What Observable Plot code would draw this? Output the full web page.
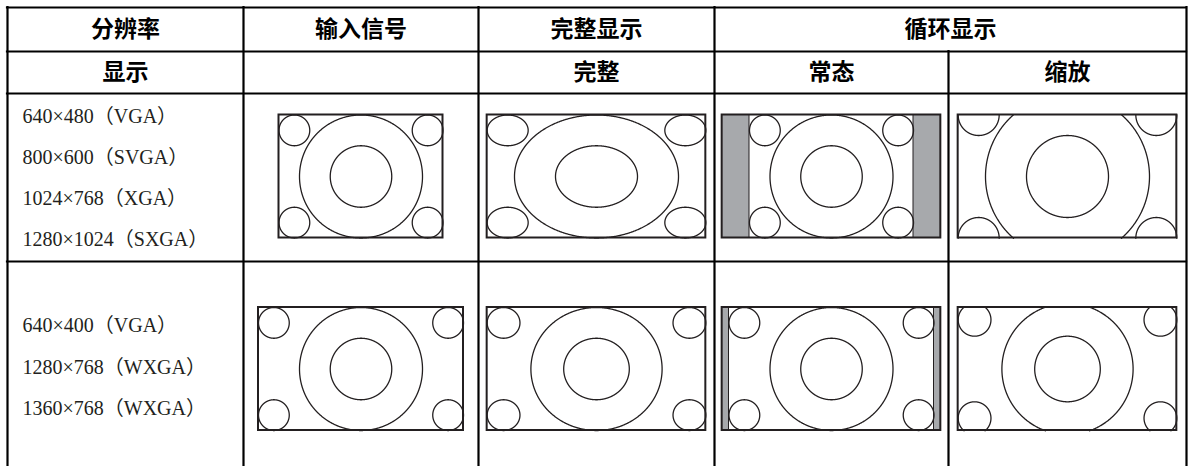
<!DOCTYPE html>
<html>
<head>
<meta charset="utf-8">
<script src="https://cdn.jsdelivr.net/npm/d3@7"></script>
<script src="https://cdn.jsdelivr.net/npm/@observablehq/plot@0.6"></script>
<style>
  html, body { margin: 0; padding: 0; background: #ffffff; }
</style>
</head>
<body>
<div id="chart"></div>
<script>
// ---------------- data ----------------
const headerTop = ["分辨率", "输入信号", "完整显示", "循环显示"];
const headerSub = ["显示", "", "完整", "常态", "缩放"];
const resolutions43 = ["640×480（VGA）", "800×600（SVGA）", "1024×768（XGA）", "1280×1024（SXGA）"];
const resolutionsWide = ["640×400（VGA）", "1280×768（WXGA）", "1360×768（WXGA）"];
const sourceAspects = [4 / 3, 5 / 3];       // input signal aspect per row group
const displayAspect = 16 / 9;               // panel aspect
const modes = ["input", "full", "normal", "zoom"];

// ---------------- layout ----------------
const W = 1189, H = 466;
const colEdges = [7, 243, 478, 714, 948, 1186];
const rowEdges = [7, 51, 93, 261];
const colCenter = i => (colEdges[i] + colEdges[i + 1]) / 2;
const textCenters = [178, 367];
const textSpacing = [41, 41.5];
const diagCenters = [176, 368.5];
const frameH = 123;

// ---------------- table grid ----------------
const vLines = colEdges.map((x, i) => ({x, y1: i === 4 ? rowEdges[1] : rowEdges[0], y2: H}));
const hLines = rowEdges.map(y => ({y, x1: colEdges[0], x2: colEdges[5]}));

// ---------------- header texts ----------------
const topTexts = headerTop.map((t, i) => ({
  t, x: i < 3 ? colCenter(i) : (colEdges[3] + colEdges[5]) / 2, y: (rowEdges[0] + rowEdges[1]) / 2 + 0.5
}));
const subTexts = headerSub.map((t, i) => ({t, x: colCenter(i), y: (rowEdges[1] + rowEdges[2]) / 2 + 0.5})).filter(d => d.t);

const resTexts = [];
[resolutions43, resolutionsWide].forEach((list, r) => {
  list.forEach((t, i) => resTexts.push({t, x: 22, y: textCenters[r] + (i - (list.length - 1) / 2) * textSpacing[r]}));
});

// ---------------- diagrams ----------------
const frames = [], innerFrames = [], bars = [], curvePts = [];
let eid = 0;
sourceAspects.forEach((a, r) => {
  const cy = diagCenters[r];
  modes.forEach((m, k) => {
    const cx = colCenter(k + 1);
    const fw = m === "input" ? frameH * a : frameH * displayAspect;
    const f = {x1: cx - fw / 2, x2: cx + fw / 2, y1: cy - frameH / 2, y2: cy + frameH / 2};
    let src = {...f};
    if (m === "normal") {
      const sw = frameH * a;
      src = {x1: cx - sw / 2, x2: cx + sw / 2, y1: f.y1, y2: f.y2};
      bars.push({x1: f.x1, x2: src.x1, y1: f.y1, y2: f.y2});
      bars.push({x1: src.x2, x2: f.x2, y1: f.y1, y2: f.y2});
      innerFrames.push(src);
    } else if (m === "zoom") {
      const sh = fw / a;
      src = {x1: f.x1, x2: f.x2, y1: cy - sh / 2, y2: cy + sh / 2};
    }
    frames.push(f);
    // circles in source units (height = 1, width = a)
    const circles = [
      [a / 2, 0.5, 0.5], [a / 2, 0.5, 0.25],
      [0.125, 0.125, 0.125], [a - 0.125, 0.125, 0.125],
      [0.125, 0.875, 0.125], [a - 0.125, 0.875, 0.125]
    ];
    const kx = (src.x2 - src.x1) / a, ky = (src.y2 - src.y1);
    circles.forEach(([u, v, rr]) => {
      const id = eid++;
      const N = 900;
      for (let s = 0; s <= N; s++) {
        const th = (s / N) * 2 * Math.PI;
        const x = src.x1 + (u + rr * Math.cos(th)) * kx;
        const y = src.y1 + (v + rr * Math.sin(th)) * ky;
        const inside = x >= f.x1 - 0.3 && x <= f.x2 + 0.3 && y >= f.y1 - 0.3 && y <= f.y2 + 0.3;
        curvePts.push({id, x: inside ? x : NaN, y: inside ? y : NaN});
      }
    });
  });
});

const lineColor = "#231f20";
const chart = Plot.plot({
  width: W,
  height: H,
  margin: 0,
  x: {domain: [0, W], range: [0, W], axis: null},
  y: {domain: [0, H], range: [0, H], axis: null},
  style: {background: "#ffffff"},
  marks: [
    Plot.rect(bars, {x1: "x1", x2: "x2", y1: "y1", y2: "y2", fill: "#a7a9ac"}),
    Plot.rect(innerFrames, {x1: "x1", x2: "x2", y1: "y1", y2: "y2", fill: "none", stroke: lineColor, strokeWidth: 1}),
    Plot.line(curvePts, {x: "x", y: "y", z: "id", stroke: lineColor, strokeWidth: 1.3, curve: "linear"}),
    Plot.rect(frames, {x1: "x1", x2: "x2", y1: "y1", y2: "y2", fill: "none", stroke: lineColor, strokeWidth: 2}),
    Plot.ruleX(vLines, {x: "x", y1: "y1", y2: "y2", stroke: "#000", strokeWidth: 2.2, strokeLinecap: "square"}),
    Plot.ruleY(hLines, {y: "y", x1: "x1", x2: "x2", stroke: "#000", strokeWidth: 2.2, strokeLinecap: "square"}),
    Plot.text(topTexts, {x: "x", y: "y", text: "t", fontSize: 23, fontWeight: "bold", fontFamily: "'Noto Sans CJK SC', sans-serif", fill: "#000"}),
    Plot.text(subTexts, {x: "x", y: "y", text: "t", fontSize: 23, fontWeight: "bold", fontFamily: "'Noto Sans CJK SC', sans-serif", fill: "#000"}),
    Plot.text(resTexts, {x: "x", y: "y", text: "t", textAnchor: "start", fontSize: 20, fontFamily: "'Liberation Serif', 'Noto Sans CJK SC', serif", fill: "#231f20"})
  ]
});
document.getElementById("chart").appendChild(chart);
</script>
</body>
</html>
